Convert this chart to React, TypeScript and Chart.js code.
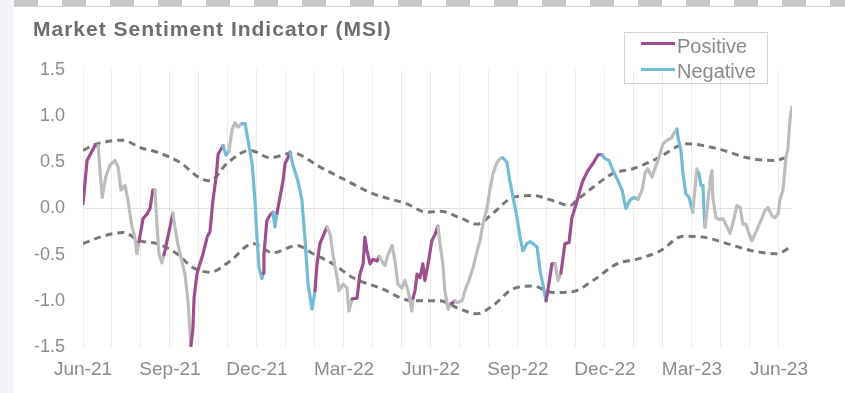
import React, { useEffect, useRef } from 'react';
import { Chart, registerables } from 'chart.js';

Chart.register(...registerables);

const chartTitle = 'Market Sentiment Indicator (MSI)';
const tickLabels = ['Jun-21', 'Sep-21', 'Dec-21', 'Mar-22', 'Jun-22', 'Sep-22', 'Dec-22', 'Mar-23', 'Jun-23'];
const legendItems = [
  { label: 'Positive', color: '#9c4f8e' },
  { label: 'Negative', color: '#72bcd6' },
];
const neutralColor = '#bdbdbd';
const bandColor = '#787878';

// months since Jun-21
const msiMonth = [
  0, 0.14, 0.24, 0.41, 0.52, 0.66, 0.79, 0.93, 1.10, 1.21,
  1.31, 1.45, 1.55, 1.69, 1.79, 1.86, 1.93, 2.07, 2.21, 2.31,
  2.41, 2.48, 2.55, 2.62, 2.72, 2.79, 2.83, 3.00, 3.10, 3.17,
  3.28, 3.41, 3.52, 3.62, 3.72, 3.79, 3.83, 3.93, 4.03, 4.14,
  4.28, 4.38, 4.48, 4.59, 4.66, 4.83, 4.93, 5.03, 5.14, 5.24,
  5.34, 5.48, 5.59, 5.69, 5.83, 5.93, 6.00, 6.07, 6.17, 6.21,
  6.24, 6.34, 6.45, 6.55, 6.62, 6.69, 6.79, 6.90, 6.97, 7.07,
  7.14, 7.24, 7.41, 7.55, 7.66, 7.76, 7.90, 8.00, 8.07, 8.17,
  8.28, 8.41, 8.52, 8.62, 8.76, 8.83, 8.97, 9.10, 9.17, 9.28,
  9.45, 9.55, 9.66, 9.72, 9.79, 9.90, 10.00, 10.14, 10.21, 10.41,
  10.52, 10.66, 10.76, 10.86, 11.00, 11.10, 11.21, 11.34, 11.38, 11.45,
  11.52, 11.62, 11.72, 11.79, 11.90, 12.03, 12.14, 12.24, 12.31, 12.41,
  12.48, 12.59, 12.69, 12.76, 12.83, 12.90, 13.07, 13.17, 13.31, 13.45,
  13.59, 13.69, 13.79, 13.93, 14.03, 14.14, 14.28, 14.38, 14.48, 14.62,
  14.72, 14.83, 14.97, 15.07, 15.17, 15.31, 15.41, 15.52, 15.66, 15.76,
  15.86, 15.97, 16.03, 16.17, 16.28, 16.38, 16.48, 16.62, 16.76, 16.86,
  16.97, 17.14, 17.24, 17.41, 17.59, 17.76, 17.90, 18.00, 18.14, 18.28,
  18.45, 18.59, 18.72, 18.86, 19.00, 19.14, 19.28, 19.38, 19.48, 19.62,
  19.72, 19.86, 20.00, 20.14, 20.28, 20.41, 20.48, 20.52, 20.62, 20.69,
  20.79, 20.90, 21.03, 21.10, 21.17, 21.24, 21.31, 21.38, 21.41, 21.45,
  21.52, 21.59, 21.62, 21.69, 21.72, 21.83, 21.93, 22.07, 22.21, 22.31,
  22.41, 22.55, 22.66, 22.76, 22.86, 22.93, 23.07, 23.17, 23.28, 23.41,
  23.52, 23.62, 23.76, 23.86, 23.97, 24.03, 24.14, 24.24, 24.31, 24.38,
  24.45,
];

const msiValue = [
  0.05, 0.52, 0.58, 0.68, 0.68, 0.12, 0.35, 0.47, 0.52, 0.45,
  0.2, 0.25, 0.09, -0.2, -0.31, -0.49, -0.36, -0.11, -0.06, 0.0,
  0.2, 0.2, -0.17, -0.49, -0.59, -0.5, -0.45, -0.2, -0.05, -0.2,
  -0.4, -0.57, -0.72, -1.0, -1.49, -1.3, -0.97, -0.71, -0.6, -0.49,
  -0.31, -0.25, 0.09, 0.34, 0.59, 0.68, 0.58, 0.62, 0.85, 0.93,
  0.88, 0.92, 0.92, 0.74, 0.49, 0.09, -0.31, -0.64, -0.76, -0.7,
  -0.5, -0.13, -0.07, -0.04, -0.2, -0.05, 0.12, 0.3, 0.49, 0.55,
  0.61, 0.47, 0.3, 0.09, -0.35, -0.82, -1.09, -0.89, -0.6, -0.38,
  -0.3, -0.2, -0.27, -0.5, -0.75, -0.89, -0.82, -0.86, -1.11, -0.98,
  -0.97, -0.71, -0.6, -0.31, -0.45, -0.6, -0.55, -0.57, -0.52, -0.62,
  -0.5, -0.4, -0.57, -0.82, -0.86, -0.78, -0.89, -1.11, -0.97, -0.89,
  -0.71, -0.75, -0.6, -0.78, -0.6, -0.35, -0.28, -0.19, -0.38, -0.6,
  -0.89, -1.09, -1.03, -1.02, -1.0, -1.02, -1.0, -0.89, -0.78, -0.64,
  -0.46, -0.35, -0.17, 0.0, 0.2, 0.38, 0.5, 0.54, 0.55, 0.5,
  0.3, 0.12, -0.1, -0.31, -0.46, -0.38, -0.36, -0.38, -0.42, -0.67,
  -0.82, -1.0, -0.89, -0.6, -0.6, -0.78, -0.7, -0.38, -0.37, -0.1,
  0.01, 0.2, 0.3, 0.41, 0.49, 0.58, 0.58, 0.54, 0.52, 0.41,
  0.3, 0.2, 0.0, 0.09, 0.12, 0.1, 0.2, 0.38, 0.43, 0.34,
  0.43, 0.55, 0.7, 0.74, 0.76, 0.83, 0.86, 0.77, 0.63, 0.38,
  0.16, 0.12, -0.04, 0.2, 0.43, 0.38, 0.25, 0.25, 0.02, -0.2,
  -0.02, 0.2, 0.3, 0.41, 0.12, -0.1, -0.12, -0.11, -0.2, -0.27,
  -0.16, 0.03, 0.01, -0.17, -0.17, -0.24, -0.35, -0.28, -0.2, -0.11,
  -0.02, 0.01, -0.08, -0.1, -0.06, 0.09, 0.2, 0.55, 0.65, 0.96,
  1.1,
];

// P = positive, N = negative, G = neutral (colour of the segment ending at each point)
const msiState = (
  'PPPPPGGGGG' + 'GGGGGGGPPP' + 'PPGGGGPPPG' + 'GGGGGPPPPP' + 'PPPPPPNNGG' +
  'GGNNNNNNNN' + 'PPPPNNPPPP' + 'PNNNNNNNPP' + 'PPGGGGGGGG' + 'PPPPPPPPPG' +
  'GGGGGGGGGP' + 'PPPPPPPPGG' + 'GGGPPGGGGG' + 'GGGGGGGGGN' + 'NNNNNNNNNN' +
  'NNPPPGGPPP' + 'PPPPPPPNNN' + 'NNNNNNGGGG' + 'GGGGGGGNNN' + 'NNNGGGNNNN' +
  'GGGGGGGGGG' + 'GGGGGGGGGG' + 'GGGGGGGGGG' + 'G'
).split('');

const upperMonth = [0, 0.48, 1.38, 1.97, 2.55, 3.34, 4.03, 4.38, 4.97, 5.76, 6.45, 7.24, 8.17, 9.10, 10.00, 11.17, 11.86, 12.31, 13.00, 13.59, 14.14, 14.83, 15.52, 16.34, 16.79, 17.03, 17.59, 18.28, 18.97, 19.79, 20.83, 21.86, 22.90, 23.79, 24.38];
const upperBand = [0.63, 0.7, 0.74, 0.66, 0.61, 0.5, 0.33, 0.3, 0.49, 0.63, 0.55, 0.6, 0.45, 0.3, 0.16, 0.05, -0.04, -0.03, -0.1, -0.17, -0.05, 0.12, 0.14, 0.07, 0.03, 0.09, 0.23, 0.38, 0.43, 0.54, 0.7, 0.65, 0.55, 0.52, 0.56];

const lowerMonth = [0, 0.59, 1.38, 1.97, 2.55, 3.24, 3.79, 4.38, 5.07, 5.86, 6.55, 7.38, 7.93, 8.62, 9.31, 10.24, 11.38, 12.31, 13.00, 13.59, 14.14, 14.83, 15.52, 16.21, 16.90, 17.59, 18.41, 19.21, 19.90, 20.69, 21.38, 22.21, 23.10, 23.93, 24.38];
const lowerBand = [-0.38, -0.31, -0.26, -0.35, -0.38, -0.49, -0.64, -0.69, -0.57, -0.38, -0.48, -0.4, -0.49, -0.6, -0.75, -0.86, -1.0, -1.0, -1.09, -1.14, -1.05, -0.87, -0.84, -0.91, -0.9, -0.78, -0.6, -0.54, -0.46, -0.3, -0.31, -0.38, -0.46, -0.49, -0.42];

const stateColor = (s: string) => (s === 'P' ? legendItems[0].color : s === 'N' ? legendItems[1].color : neutralColor);

export default function App() {
  const canvasRef = useRef<HTMLCanvasElement | null>(null);

  useEffect(() => {
    if (!canvasRef.current) return;
    const chart = new Chart(canvasRef.current, {
      type: 'line',
      data: {
        datasets: [
          {
            label: 'MSI',
            data: msiMonth.map((m, i) => ({ x: m, y: msiValue[i] })),
            borderWidth: 3.2,
            borderColor: neutralColor,
            pointRadius: 0,
            tension: 0,
            borderJoinStyle: 'round',
            borderCapStyle: 'round',
            segment: {
              borderColor: (ctx: any) => stateColor(msiState[ctx.p1DataIndex]),
            },
          },
          {
            label: 'Upper',
            data: upperMonth.map((m, i) => ({ x: m, y: upperBand[i] })),
            borderWidth: 3,
            borderColor: bandColor,
            borderDash: [7, 5],
            pointRadius: 0,
            cubicInterpolationMode: 'monotone',
          },
          {
            label: 'Lower',
            data: lowerMonth.map((m, i) => ({ x: m, y: lowerBand[i] })),
            borderWidth: 3,
            borderColor: bandColor,
            borderDash: [7, 5],
            pointRadius: 0,
            cubicInterpolationMode: 'monotone',
          },
        ],
      },
      options: {
        animation: false,
        responsive: false,
        maintainAspectRatio: false,
        layout: { padding: { left: 0, top: 70, right: 53, bottom: 0 } },
        plugins: { legend: { display: false }, tooltip: { enabled: false }, title: { display: false } },
        scales: {
          x: {
            type: 'linear',
            min: 0,
            max: 24.45,
            afterBuildTicks: (scale: any) => {
              scale.ticks = scale.ticks.filter((t: any) => Number.isInteger(t.value));
            },
            afterFit: (scale: any) => {
              scale.height = 46;
            },
            ticks: {
              stepSize: 1,
              includeBounds: false,
              autoSkip: false,
              maxRotation: 0,
              padding: 11,
              color: '#8c8c8c',
              font: { family: '"Liberation Sans", Arial, sans-serif', size: 19 },
              callback: (v: any) => (Number(v) % 3 === 0 ? tickLabels[Number(v) / 3] : ''),
            },
            grid: { color: '#ececec', lineWidth: 1, drawTicks: false },
            border: { display: false },
          },
          y: {
            min: -1.5,
            max: 1.5,
            afterFit: (scale: any) => {
              scale.width = 83;
            },
            ticks: {
              stepSize: 0.5,
              padding: 18,
              color: '#8c8c8c',
              font: { family: '"Liberation Sans", Arial, sans-serif', size: 18 },
              callback: (v: any) => Number(v).toFixed(1),
            },
            grid: {
              drawTicks: false,
              color: (ctx: any) => (ctx.tick && ctx.tick.value === 0 ? '#e2e2e2' : 'rgba(0,0,0,0)'),
            },
            border: { display: false },
          },
        },
      },
    } as any);
    return () => chart.destroy();
  }, []);

  return (
    <div style={{ position: 'fixed', left: 0, top: 0, width: 845, height: 393, background: '#ffffff', overflow: 'hidden', fontFamily: '"Liberation Sans", Arial, sans-serif' }}>
      <div style={{ position: 'absolute', left: 0, top: 0, width: 14, height: 393, background: '#f3f5f9' }} />
      <div style={{ position: 'absolute', left: 14, top: 5, right: 0, height: 2, background: '#d2d2d2' }} />
      <div
        style={{
          position: 'absolute', left: 14, top: 0, right: 0, height: 6,
          background: 'repeating-linear-gradient(90deg, #c8c8c8 0px, #c8c8c8 24px, #ffffff 24px, #ffffff 48px)',
        }}
      />
      <canvas ref={canvasRef} width={845} height={393} style={{ position: 'absolute', left: 0, top: 0, width: 845, height: 393 }} />
      <div style={{ position: 'absolute', left: 33, top: 17, fontSize: 21, lineHeight: '24px', fontWeight: 700, color: '#6e6e6e', letterSpacing: 1.0, whiteSpace: 'nowrap' }}>
        {chartTitle}
      </div>
      <div style={{ position: 'absolute', left: 624, top: 32, width: 142, height: 50, border: '1px solid #d4d4d4', background: 'transparent' }} />
      {legendItems.map((item, i) => (
        <React.Fragment key={item.label}>
          <div style={{ position: 'absolute', left: 641, top: 42 + i * 26, width: 34, height: 3, background: item.color }} />
          <div style={{ position: 'absolute', left: 677, top: 36 + i * 25, fontSize: 20, lineHeight: '20px', color: '#8a8a8a', whiteSpace: 'nowrap' }}>
            {item.label}
          </div>
        </React.Fragment>
      ))}
    </div>
  );
}
